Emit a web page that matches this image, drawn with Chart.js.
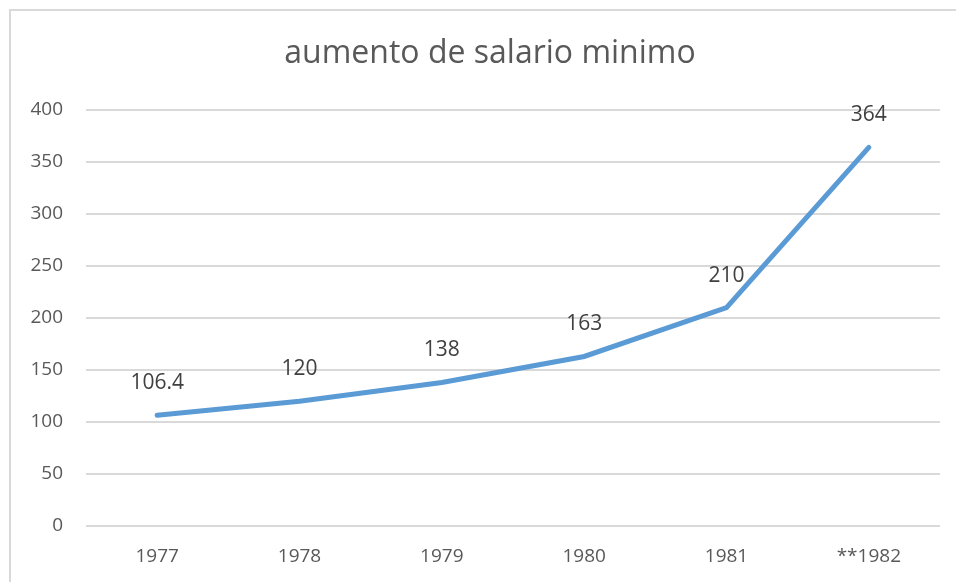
<!DOCTYPE html>
<html>
<head>
<meta charset="utf-8">
<script src="https://cdn.jsdelivr.net/npm/chart.js@4"></script>
<style>
  html, body { margin: 0; padding: 0; background: #fff; overflow: hidden; }
  #frame { position: absolute; left: 9px; top: 9px; width: 1000px; height: 1000px; border: 2px solid #d9d9d9; }
  #wrap { position: absolute; left: 0; top: 0; width: 956px; height: 582px; }
</style>
</head>
<body>
<div id="frame"></div>
<div id="wrap"><canvas id="chart"></canvas></div>
<script>
const years = ["1977", "1978", "1979", "1980", "1981", "**1982"];
const salario = [106.4, 120, 138, 163, 210, 364];
const yTicks = [0, 50, 100, 150, 200, 250, 300, 350, 400];
const chartTitle = "aumento de salario minimo";

const textColor = "#595959";
const fontFamily = "'Open Sans', Lato, sans-serif";

// labels above each point, like excel data labels + title a bit right of center
const extras = {
  id: "extras",
  afterDatasetsDraw(chart) {
    const ctx = chart.ctx;
    const meta = chart.getDatasetMeta(0);
    ctx.save();
    ctx.font = "21px " + fontFamily;
    ctx.fillStyle = "#404040";
    ctx.textAlign = "center";
    ctx.textBaseline = "middle";
    meta.data.forEach((pt, i) => {
      ctx.fillText(String(salario[i]), pt.x, pt.y - 32);
    });
    ctx.font = "32px " + fontFamily;
    ctx.fillStyle = textColor;
    ctx.fillText(chartTitle, 490, 54);
    ctx.restore();
  }
};

new Chart(document.getElementById("chart"), {
  type: "line",
  data: {
    labels: years,
    datasets: [{
      data: salario,
      borderColor: "#5b9bd5",
      borderWidth: 5,
      pointRadius: 0,
      tension: 0,
      borderCapStyle: "round"
    }]
  },
  options: {
    responsive: true,
    maintainAspectRatio: false,
    animation: false,
    layout: { padding: { left: 0, right: 16, top: 110, bottom: 0 } },
    plugins: {
      legend: { display: false },
      tooltip: { enabled: false },
      title: { display: false }
    },
    scales: {
      x: {
        offset: true,
        grid: { display: false },
        border: { display: false },
        ticks: { color: textColor, font: { family: fontFamily, size: 19 }, padding: 11 },
        afterFit: s => { s.height = 56; }
      },
      y: {
        min: 0,
        max: 400,
        afterBuildTicks: s => { s.ticks = yTicks.map(v => ({ value: v })); },
        grid: { color: "#d9d9d9", lineWidth: 2, drawTicks: false },
        border: { display: false },
        ticks: { color: textColor, font: { family: fontFamily, size: 19 }, padding: 23 },
        afterFit: s => { s.width = 86; }
      }
    }
  },
  plugins: [extras]
});
</script>
</body>
</html>
